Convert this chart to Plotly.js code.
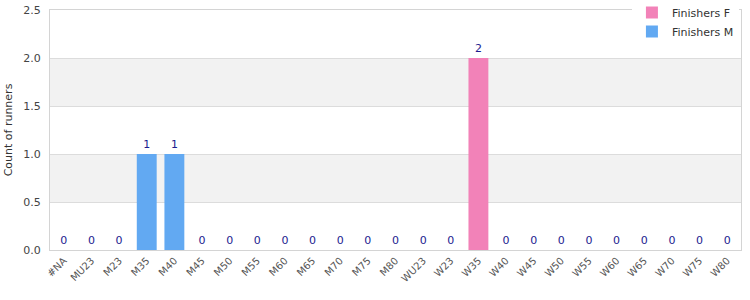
<!DOCTYPE html>
<html><head><meta charset="utf-8">
<script src="https://cdn.plot.ly/plotly-3.0.1.min.js"></script>
<style>html,body{margin:0;padding:0;background:#fff}#chart{width:750px;height:300px}</style>
</head><body><div id="chart"></div>
<script>
const categories = ["#NA","MU23","M23","M35","M40","M45","M50","M55","M60","M65","M70","M75","M80","WU23","W23","W35","W40","W45","W50","W55","W60","W65","W70","W75","W80"];
const maleCats = ["#NA","MU23","M23","M35","M40","M45","M50","M55","M60","M65","M70","M75","M80"];
const maleValues = [0,0,0,1,1,0,0,0,0,0,0,0,0];
const femaleCats = ["WU23","W23","W35","W40","W45","W50","W55","W60","W65","W70","W75","W80"];
const femaleValues = [0,0,2,0,0,0,0,0,0,0,0,0];
const yTicks = [0,0.5,1.0,1.5,2.0,2.5];

const font = "DejaVu Sans, Verdana, sans-serif";
const labelColor = "#1c1c8f";
const shapes = [];
for (let i = 1; i + 1 < yTicks.length; i += 2) {
  shapes.push({type:"rect", xref:"paper", yref:"y", x0:0, x1:1, y0:yTicks[i], y1:yTicks[i+1],
    fillcolor:"#f2f2f2", line:{width:0}, layer:"below"});
}
const traces = [
  {type:"bar", name:"Finishers F", x:femaleCats, y:femaleValues, text:femaleValues.map(String),
   textposition:"outside", textfont:{color:labelColor, size:11, family:font}, cliponaxis:false,
   marker:{color:"#f282b8"}, width:0.72},
  {type:"bar", name:"Finishers M", x:maleCats, y:maleValues, text:maleValues.map(String),
   textposition:"outside", textfont:{color:labelColor, size:11, family:font}, cliponaxis:false,
   marker:{color:"#62a9f2"}, width:0.72}
];
const layout = {
  width:750, height:300,
  margin:{l:50, r:9, t:10, b:50, autoexpand:false},
  paper_bgcolor:"#fff", plot_bgcolor:"#fff",
  font:{family:font, size:11, color:"#444"},
  barmode:"overlay",
  showlegend:true,
  legend:{x:0.997, xanchor:"right", y:1.05, yanchor:"top", bgcolor:"#fff",
    font:{family:font, size:11, color:"#333"}, tracegroupgap:0, itemwidth:30},
  xaxis:{type:"category", categoryorder:"array", categoryarray:categories, tickangle:-45,
    tickfont:{size:10, color:"#555"}, showline:true, linecolor:"#d4d4d4", mirror:true,
    showgrid:false, ticks:"", range:[-0.5, categories.length-0.5], automargin:false},
  yaxis:{range:[0,2.5], tickvals:yTicks, ticktext:yTicks.map(v=>v.toFixed(1)),
    showgrid:true, gridcolor:"#dcdcdc", showline:true, linecolor:"#d4d4d4", mirror:true,
    zeroline:false, tickfont:{size:11, color:"#444"}, ticks:"", ticklabelstandoff:6, automargin:false,
    title:{text:"Count of runners", font:{size:11, color:"#333"}, standoff:8}},
  shapes:shapes
};
Plotly.newPlot("chart", traces, layout, {displayModeBar:false, staticPlot:true});
</script></body></html>
